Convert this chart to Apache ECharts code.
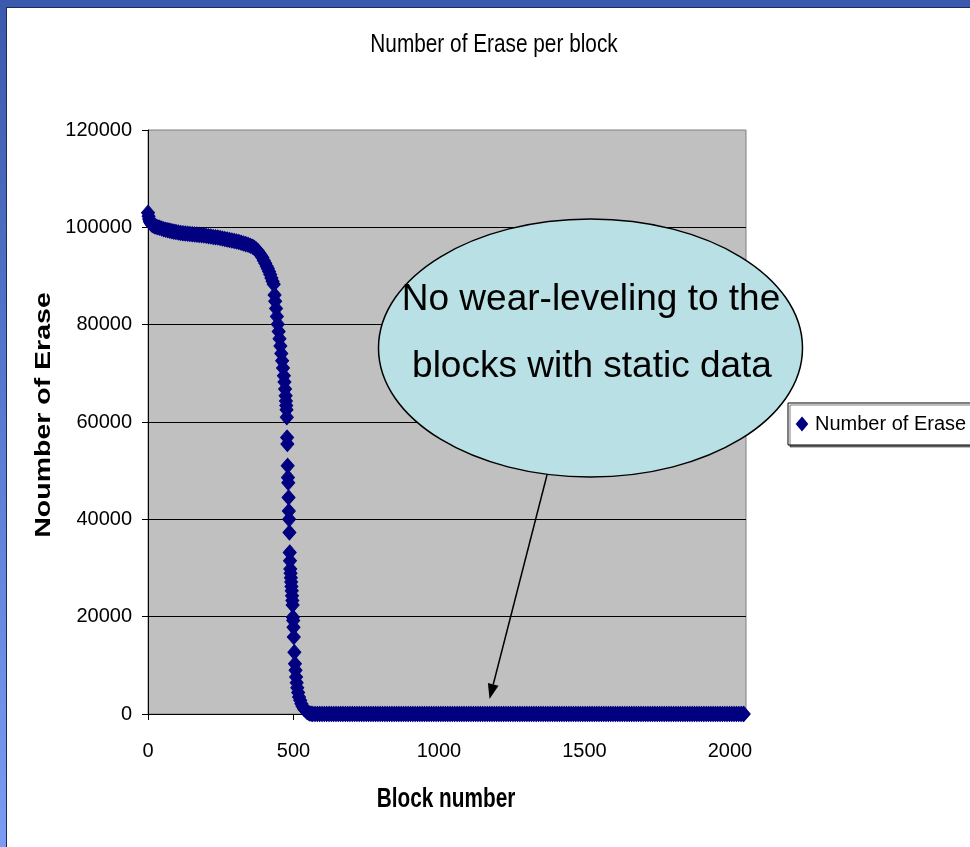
<!DOCTYPE html>
<html>
<head>
<meta charset="utf-8">
<title>Number of Erase per block</title>
<script src="https://cdn.jsdelivr.net/npm/echarts@6/dist/echarts.min.js"></script>
<style>
  html, body { margin: 0; padding: 0; background: #fff; }
  #chart { width: 970px; height: 847px; }
</style>
</head>
<body>
<div id="chart"></div>
<script>
// Blocks that take all the rewrites, sorted from most to least erased
const wornBlocks = [
  0, 2, 4, 6, 8, 11, 14, 18, 23, 28, 34, 40, 47, 54, 61, 68, 75, 82, 89, 96,
  104, 112, 120, 128, 136, 144, 152, 160, 168, 176, 184, 192, 200, 208, 216, 224, 232, 240, 248, 256,
  264, 272, 280, 288, 296, 304, 312, 320, 328, 336, 344, 352, 360, 366, 372, 378, 383, 388, 393, 398,
  403, 408, 412, 416, 420, 424, 428, 432, 435, 437, 440, 443, 446, 449, 452, 455, 458, 461, 464, 467,
  469, 471, 473, 474, 475, 476, 477, 478, 479, 480, 481, 482, 483, 484, 485, 486, 487, 488, 489, 490,
  491, 492, 493, 494, 495, 496, 497, 498, 499, 500, 501, 503, 505, 507, 509, 511, 513, 516, 519, 523,
  527, 531, 536, 541, 546, 551, 556, 561
];
const wornEraseCounts = [
  103000, 102300, 101700, 101300, 101000, 100750, 100550, 100400, 100250, 100100, 100000, 99900, 99750, 99600, 99500, 99400, 99300, 99200, 99100, 99050,
  98950, 98850, 98800, 98750, 98700, 98650, 98600, 98550, 98500, 98450, 98400, 98300, 98250, 98150, 98100, 98000, 97950, 97900, 97800, 97700,
  97600, 97500, 97400, 97300, 97200, 97100, 97000, 96850, 96700, 96550, 96400, 96200, 96000, 95750, 95450, 95100, 94700, 94250, 93800, 93200,
  92600, 92000, 91500, 90900, 90300, 89600, 88900, 88300, 86100, 84800, 83300, 81700, 80100, 78600, 77100, 75600, 74100, 72600, 71100, 69500,
  68200, 66800, 65400, 64300, 63400, 62500, 61000, 56800, 55500, 51000, 48600, 47500, 44500, 41700, 40000, 37300, 33200, 31500, 29800, 28900,
  28000, 27100, 26200, 25300, 24300, 23300, 22400, 19900, 19200, 17800, 15800, 12700, 10300, 9000, 7600, 6400, 5400, 4400, 3500, 2800,
  2100, 1600, 1100, 750, 450, 250, 100, 30
];
// Blocks holding static data: never erased
const staticBlocks = [
  566, 574, 582, 590, 598, 606, 614, 622, 630, 638,
  646, 654, 662, 670, 678, 686, 694, 702, 710, 718,
  726, 734, 742, 750, 758, 766, 774, 782, 790, 798,
  806, 814, 822, 830, 838, 846, 854, 862, 870, 878,
  886, 894, 902, 910, 918, 926, 934, 942, 950, 958,
  966, 974, 982, 990, 998, 1006, 1014, 1022, 1030, 1038,
  1046, 1054, 1062, 1070, 1078, 1086, 1094, 1102, 1110, 1118,
  1126, 1134, 1142, 1150, 1158, 1166, 1174, 1182, 1190, 1198,
  1206, 1214, 1222, 1230, 1238, 1246, 1254, 1262, 1270, 1278,
  1286, 1294, 1302, 1310, 1318, 1326, 1334, 1342, 1350, 1358,
  1366, 1374, 1382, 1390, 1398, 1406, 1414, 1422, 1430, 1438,
  1446, 1454, 1462, 1470, 1478, 1486, 1494, 1502, 1510, 1518,
  1526, 1534, 1542, 1550, 1558, 1566, 1574, 1582, 1590, 1598,
  1606, 1614, 1622, 1630, 1638, 1646, 1654, 1662, 1670, 1678,
  1686, 1694, 1702, 1710, 1718, 1726, 1734, 1742, 1750, 1758,
  1766, 1774, 1782, 1790, 1798, 1806, 1814, 1822, 1830, 1838,
  1846, 1854, 1862, 1870, 1878, 1886, 1894, 1902, 1910, 1918,
  1926, 1934, 1942, 1950, 1958, 1966, 1974, 1982, 1990, 1998,
  2006, 2014, 2022, 2030, 2038, 2046, 2047
];
const staticEraseCounts = [
  0, 0, 0, 0, 0, 0, 0, 0, 0, 0,
  0, 0, 0, 0, 0, 0, 0, 0, 0, 0,
  0, 0, 0, 0, 0, 0, 0, 0, 0, 0,
  0, 0, 0, 0, 0, 0, 0, 0, 0, 0,
  0, 0, 0, 0, 0, 0, 0, 0, 0, 0,
  0, 0, 0, 0, 0, 0, 0, 0, 0, 0,
  0, 0, 0, 0, 0, 0, 0, 0, 0, 0,
  0, 0, 0, 0, 0, 0, 0, 0, 0, 0,
  0, 0, 0, 0, 0, 0, 0, 0, 0, 0,
  0, 0, 0, 0, 0, 0, 0, 0, 0, 0,
  0, 0, 0, 0, 0, 0, 0, 0, 0, 0,
  0, 0, 0, 0, 0, 0, 0, 0, 0, 0,
  0, 0, 0, 0, 0, 0, 0, 0, 0, 0,
  0, 0, 0, 0, 0, 0, 0, 0, 0, 0,
  0, 0, 0, 0, 0, 0, 0, 0, 0, 0,
  0, 0, 0, 0, 0, 0, 0, 0, 0, 0,
  0, 0, 0, 0, 0, 0, 0, 0, 0, 0,
  0, 0, 0, 0, 0, 0, 0, 0, 0, 0,
  0, 0, 0, 0, 0, 0, 0
];
const xTickValues = [0, 500, 1000, 1500, 2000];
const yTickValues = [0, 20000, 40000, 60000, 80000, 100000, 120000];
const seriesName = 'Number of Erase';
const chartTitle = 'Number of Erase per block';
const xAxisTitle = 'Block number';
const yAxisTitle = 'Noumber of Erase';
const calloutLines = ['No wear-leveling to the', 'blocks with static data'];

const SANS = "'Liberation Sans', Arial, sans-serif";
const MARKER = 'path://M5,0 L10,6 L5,12 L0,6 Z';

const points = wornBlocks.map((b, i) => [b, wornEraseCounts[i]])
  .concat(staticBlocks.map((b, i) => [b, staticEraseCounts[i]]));

const chart = echarts.init(document.getElementById('chart'), null, { renderer: 'canvas' });

// condensed chart-object text (title and axis titles)
function squeezedText(text, x, y, size, weight, scaleX, scaleY, rotation) {
  return {
    type: 'text', x: x, y: y, rotation: rotation || 0,
    scaleX: scaleX, scaleY: scaleY, z: 20,
    style: {
      text: text, x: 0, y: 0, fill: '#000',
      fontFamily: SANS, fontSize: size, fontWeight: weight,
      align: 'center', verticalAlign: 'middle',
      textAlign: 'center', textVerticalAlign: 'middle'
    }
  };
}

// arrow from the callout down to the zero band
const arrowStart = [547, 475];
const arrowTip = [489.5, 699];
const dx = arrowTip[0] - arrowStart[0], dy = arrowTip[1] - arrowStart[1];
const len = Math.sqrt(dx * dx + dy * dy);
const ux = dx / len, uy = dy / len;
const headLen = 15, headHalf = 5.5;
const baseX = arrowTip[0] - ux * headLen, baseY = arrowTip[1] - uy * headLen;

const option = {
  backgroundColor: '#ffffff',
  animation: false,
  grid: {
    left: 148, top: 130, right: 224, bottom: 133,
    show: true, backgroundColor: '#c0c0c0', borderColor: '#808080', borderWidth: 1,
    outerBoundsMode: 'none'
  },
  xAxis: {
    type: 'value', min: 0, max: 2055, interval: 500,
    axisLine: { show: true, onZero: false, lineStyle: { color: '#000', width: 1 } },
    axisTick: { show: true, length: 6, customValues: xTickValues, lineStyle: { color: '#000' } },
    axisLabel: {
      customValues: xTickValues, margin: 27,
      formatter: v => String(v),
      fontFamily: SANS, fontSize: 20, color: '#000'
    },
    splitLine: { show: false }
  },
  yAxis: {
    type: 'value', min: 0, max: 120000, interval: 20000,
    axisLine: { show: true, lineStyle: { color: '#000', width: 1 } },
    axisTick: { show: true, length: 6, customValues: yTickValues, lineStyle: { color: '#000' } },
    axisLabel: {
      customValues: yTickValues, margin: 16,
      formatter: v => String(v),
      fontFamily: SANS, fontSize: 20, color: '#000'
    },
    splitLine: {
      show: true, showMinLine: false, showMaxLine: false,
      lineStyle: { color: '#000', width: 1 }
    }
  },
  legend: {
    data: [seriesName], selectedMode: false,
    left: 788, top: 403, orient: 'vertical',
    icon: MARKER, itemWidth: 10, itemHeight: 12,
    padding: [11, 10, 11, 8],
    backgroundColor: '#fff', borderColor: '#000', borderWidth: 1,
    shadowColor: 'rgba(0,0,0,0.5)', shadowBlur: 0, shadowOffsetX: 2, shadowOffsetY: 2,
    textStyle: { fontFamily: SANS, fontSize: 20, color: '#000', padding: [0, 0, 0, 3] }
  },
  series: [{
    name: seriesName, type: 'scatter',
    symbol: MARKER, symbolSize: [13, 15], symbolKeepAspect: false,
    itemStyle: { color: '#000080', borderColor: '#000080', borderWidth: 1, opacity: 1 },
    data: points, z: 3
  }],
  graphic: [
    // slide frame
    { type: 'rect', z: 20, shape: { x: 0, y: 0, width: 970, height: 7 }, style: { fill: '#3b5aae' } },
    { type: 'rect', z: 20, shape: { x: 0, y: 0, width: 6, height: 847 },
      style: { fill: new echarts.graphic.LinearGradient(0, 0, 0, 1, [
        { offset: 0, color: '#3b5aae' }, { offset: 1, color: '#7b9cf2' }]) } },
    { type: 'rect', z: 21, shape: { x: 6, y: 7, width: 964, height: 1 }, style: { fill: '#1b2a5e' } },
    { type: 'rect', z: 21, shape: { x: 6, y: 7, width: 1, height: 840 }, style: { fill: '#1b2a5e' } },

    squeezedText(chartTitle, 494, 45, 26, 'normal', 0.8, 1, 0),
    squeezedText(xAxisTitle, 446, 800, 27, 'bold', 0.77, 1, 0),
    squeezedText(yAxisTitle, 44, 415, 28.5, 'bold', 1, 0.75, Math.PI / 2),

    // callout
    { type: 'ellipse', z: 30, shape: { cx: 590.5, cy: 348, rx: 212, ry: 129 },
      style: { fill: '#b9e0e4', stroke: '#000', lineWidth: 1.5 } },
    { type: 'text', z: 31, x: 591, y: 300,
      style: { text: calloutLines[0], fontFamily: SANS, fontSize: 37, fill: '#000',
        align: 'center', verticalAlign: 'middle', textAlign: 'center', textVerticalAlign: 'middle' } },
    { type: 'text', z: 31, x: 592, y: 367,
      style: { text: calloutLines[1], fontFamily: SANS, fontSize: 37, fill: '#000',
        align: 'center', verticalAlign: 'middle', textAlign: 'center', textVerticalAlign: 'middle' } },
    { type: 'line', z: 30, shape: { x1: arrowStart[0], y1: arrowStart[1], x2: baseX, y2: baseY },
      style: { stroke: '#000', lineWidth: 1.5 } },
    { type: 'polygon', z: 30,
      shape: { points: [
        arrowTip,
        [baseX - uy * headHalf, baseY + ux * headHalf],
        [baseX + uy * headHalf, baseY - ux * headHalf]
      ] },
      style: { fill: '#000' } }
  ]
};

chart.setOption(option);
</script>
</body>
</html>
